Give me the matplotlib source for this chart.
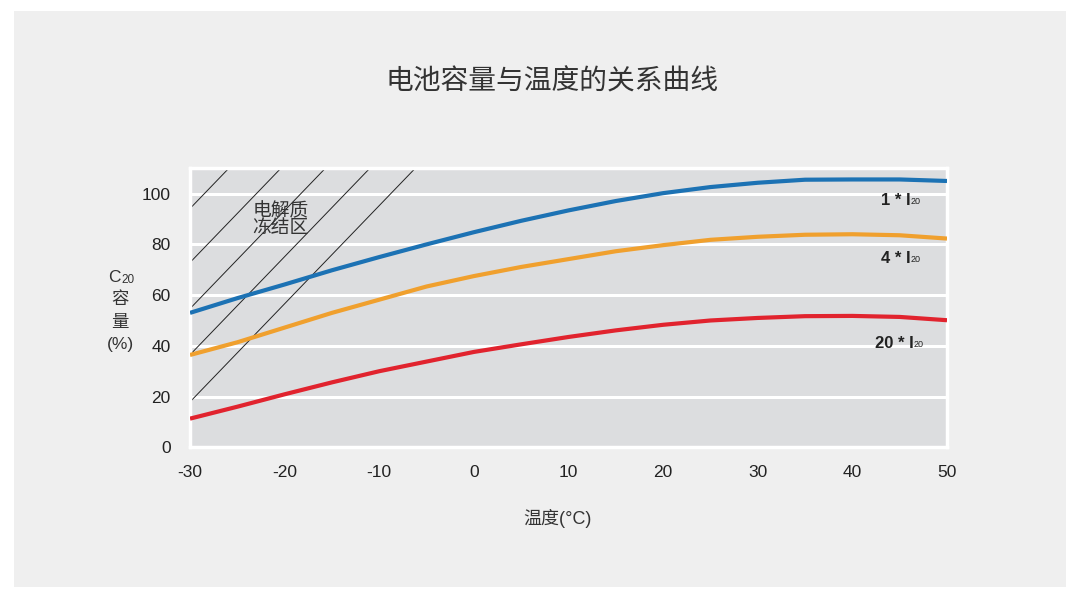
import matplotlib
matplotlib.use('Agg')
import matplotlib.pyplot as plt
from matplotlib.patches import Rectangle
import numpy as np

plt.rcParams['font.family'] = ['Liberation Sans', 'Noto Sans CJK SC', 'DejaVu Sans']
plt.rcParams['axes.unicode_minus'] = False

# data
temp = [-30, -25, -20, -15, -10, -5, 0, 5, 10, 15, 20, 25, 30, 35, 40, 45, 50]
cap_1 = [53, 58.8, 64.2, 69.8, 75, 80, 84.8, 89.3, 93.4, 97.1, 100.2, 102.6, 104.3, 105.5, 105.6, 105.6, 105]
cap_4 = [36.4, 41.4, 47.2, 53, 58.2, 63.4, 67.5, 71.1, 74.2, 77.3, 79.7, 81.8, 83, 83.8, 84, 83.6, 82.3]
cap_20 = [11.3, 16, 20.9, 25.6, 30, 33.8, 37.6, 40.6, 43.5, 46.1, 48.3, 50, 51, 51.7, 51.8, 51.4, 50.1]

series = [
    (cap_1, '#1c72b4', '1 * I', 97.4),
    (cap_4, '#f0a02e', '4 * I', 74.5),
    (cap_20, '#e1232e', '20 * I', 41),
]
label_x = [43.0, 43.0, 42.4]

# freezing zone hatch: where each line meets the top of the plot, and slope
freeze_top_x = [-25.9, -20.4, -15.7, -11.0, -6.2]
freeze_slope = 3.87

title = '电池容量与温度的关系曲线'
xlabel = '温度(°C)'
yticks = [0, 20, 40, 60, 80, 100]
xticks = [-30, -20, -10, 0, 10, 20, 30, 40, 50]

fig = plt.figure(figsize=(10.8, 5.94), dpi=100, facecolor='white')
fig.patches.append(Rectangle((14 / 1080, 7 / 594), 1052 / 1080, 576 / 594,
                             transform=fig.transFigure, facecolor='#efefef',
                             edgecolor='none', zorder=-10))

ax = fig.add_axes([190 / 1080, 1 - 447.3 / 594, 757 / 1080, 279 / 594])
ax.set_facecolor('#dcdddf')
for s in ax.spines.values():
    s.set_color('white')
    s.set_linewidth(2.5)

ax.set_xlim(-30, 50)
ax.set_ylim(0, 110)
ax.set_xticks(xticks)
ax.set_yticks(yticks)
ax.tick_params(length=0, labelsize=12.5, labelcolor='#222222')
ax.tick_params(axis='y', pad=14)
ax.tick_params(axis='x', pad=13)
ax.yaxis.grid(True, color='white', linewidth=2.2)
ax.set_axisbelow(True)

# hatch lines of the electrolyte freezing zone
for xt in freeze_top_x:
    xs = np.array([xt - 40, xt])
    ax.plot(xs, 110 + freeze_slope * (xs - xt), color='#222222', lw=0.7, zorder=2)

ax.text(-20.4, 89.6, '电解质\n冻结区', ha='center', va='center', fontsize=13.5,
        color='#333333', linespacing=1.0, zorder=3)

for (vals, col, lab, ly), lx in zip(series, label_x):
    ax.plot(temp, vals, color=col, lw=3, solid_capstyle='butt', zorder=4)
    t = ax.text(lx, ly, lab, fontsize=12, fontweight='bold', color='#222222',
                ha='left', va='center', zorder=5)
    ax.annotate('20', xy=(1, 0.12), xycoords=t, fontsize=6.5, color='#222222',
                ha='left', va='bottom', zorder=5)

fig.text(552 / 1080, 1 - 82 / 594, title, ha='center', va='center',
         fontsize=20, color='#333333')
fig.text(558 / 1080, 1 - 518 / 594, xlabel, ha='center', va='center',
         fontsize=13, color='#333333')

# y label: C20 / 容 / 量 / (%)
fig.text(121 / 1080, 1 - 278 / 594, 'C', ha='right', va='center',
         fontsize=12.5, color='#333333')
fig.text(121 / 1080, 1 - 280 / 594, '20', ha='left', va='center',
         fontsize=8.5, color='#333333')
fig.text(120 / 1080, 1 - 299 / 594, '容', ha='center', va='center',
         fontsize=12.5, color='#333333')
fig.text(120 / 1080, 1 - 322 / 594, '量', ha='center', va='center',
         fontsize=12.5, color='#333333')
fig.text(120 / 1080, 1 - 344 / 594, '(%)', ha='center', va='center',
         fontsize=12.5, color='#333333')

fig.savefig('out.png', dpi=100, facecolor=fig.get_facecolor())
